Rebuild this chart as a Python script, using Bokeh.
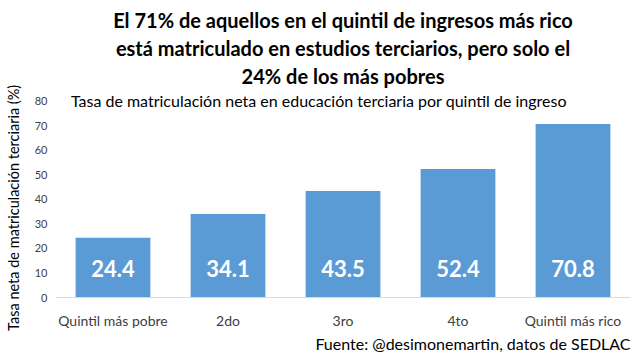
from bokeh.plotting import figure
from bokeh.models import Label, ColumnDataSource, Title
from bokeh.core.properties import value
from bokeh.embed import file_html
from bokeh.resources import INLINE

categories = ["Quintil más pobre", "2do", "3ro", "4to", "Quintil más rico"]
values = [24.4, 34.1, 43.5, 52.4, 70.8]
value_labels = ["24.4", "34.1", "43.5", "52.4", "70.8"]
title_lines = [
    "El 71% de aquellos en el quintil de ingresos más rico",
    "está matriculado en estudios terciarios, pero solo el",
    "24% de los más pobres",
]
subtitle = "Tasa de matriculación neta en educación terciaria por quintil de ingreso"
y_label = "Tasa neta de matriculación terciaria (%)"
source_note = "Fuente: @desimonemartin, datos de SEDLAC"

FONT = "Lato"
BLUE = "#5B9BD5"

p = figure(x_range=categories, y_range=(0, 85.3), width=640, height=362,
           output_backend="svg", toolbar_location=None,
           min_border_left=55, min_border_right=10, min_border_top=88, min_border_bottom=65)
p.outline_line_color = None
p.xgrid.grid_line_color = None
p.ygrid.grid_line_color = None

src = ColumnDataSource(dict(cat=categories, val=values, lab=value_labels,
                            ly=[11.8] * len(values)))
p.vbar(x="cat", top="val", width=0.65, source=src, color=BLUE, line_color=None)
p.text(x="cat", y="ly", text="lab", source=src, text_color="white",
       text_font=value(FONT), text_font_style="bold", text_font_size="22px",
       text_align="center", text_baseline="middle")

p.yaxis.ticker = [0, 10, 20, 30, 40, 50, 60, 70, 80]
p.yaxis.axis_line_color = None
p.yaxis.major_tick_line_color = None
p.yaxis.minor_tick_line_color = None
p.yaxis.major_tick_out = 0
p.yaxis.major_tick_in = 0
p.yaxis.minor_tick_out = 0
p.yaxis.major_label_text_font = FONT
p.yaxis.major_label_text_font_size = "11px"
p.yaxis.major_label_text_color = "#404040"
p.yaxis.major_label_standoff = 8
# trailing non-breaking spaces push the rotated label slightly downward, as in the reference
p.yaxis.axis_label = y_label + "\u00a0" * 8
p.yaxis.axis_label_text_font = FONT
p.yaxis.axis_label_text_font_size = "14.5px"
p.yaxis.axis_label_text_font_style = "normal"
p.yaxis.axis_label_text_color = "black"
p.yaxis.axis_label_standoff = 10

p.xaxis.axis_line_color = "#D9D9D9"
p.xaxis.major_tick_line_color = None
p.xaxis.minor_tick_line_color = None
p.xaxis.major_tick_out = 0
p.xaxis.major_tick_in = 0
p.xaxis.major_label_text_font = FONT
p.xaxis.major_label_text_font_size = "14px"
p.xaxis.major_label_text_color = "#404040"
p.xaxis.major_label_standoff = 14

# titles: added closest-first
for line in reversed(title_lines):
    p.add_layout(Title(text=line, align="center", offset=-8, text_font=FONT,
                       text_font_style="bold", text_font_size="20px",
                       text_color="black", standoff=2), "above")

p.add_layout(Label(x=2.29, y=80.4, text=subtitle, text_font=FONT, text_font_size="16px",
                   text_align="center", text_baseline="middle", text_color="black"))

p.add_layout(Title(text=source_note, align="right", text_font=FONT,
                   text_font_style="normal", text_font_size="16px",
                   text_color="black", standoff=0), "below")

open("out.html", "w").write(file_html(p, INLINE))
